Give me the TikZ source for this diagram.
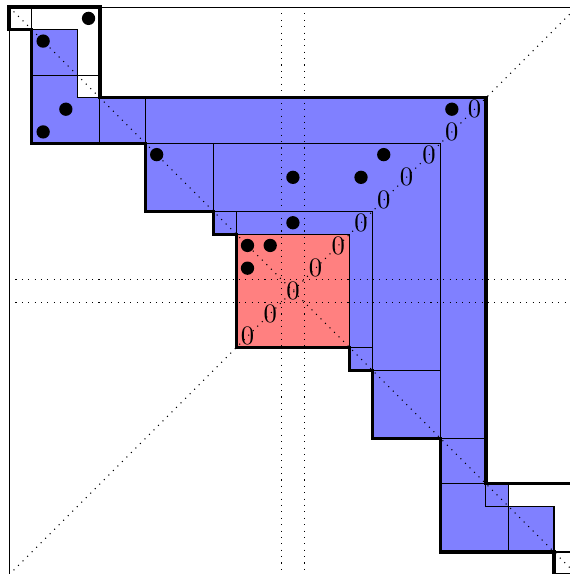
\documentclass[tikz,border=0pt]{standalone}
\newcommand{\StaircaseUnit}{0.3}
\tikzset{
	onedot/.style={circle, fill=black, inner sep=0pt, minimum size=5pt},
	zeroentry/.style={inner sep=0pt},
	blockline/.style={draw=black, thin},
	hookline/.style={draw=black, very thick, line join=miter},
}

\begin{document}
\begin{tikzpicture}[x=\StaircaseUnit cm, y=-\StaircaseUnit cm]
		\useasboundingbox (-0.4,-0.31) rectangle (24.66,24.97);
		\fill[blue!50] (1,1) -- (3,1) -- (3,4) -- (4,4) -- (21,4) -- (21,21) -- (22,21) -- (22,22) -- (24,22) -- (24,24) -- (19,24) -- (19,19) -- (16,19) -- (16,16) -- (15,16) -- (15,15) -- (10,15) -- (10,10) -- (9,10) -- (9,9) -- (6,9) -- (6,6) -- (1,6) -- cycle;
		\filldraw[fill=red!50, blockline] (10,10) rectangle (15,15);
		\draw[dotted] (12,0) -- (12,25) (13,0) -- (13,25) (0,12) -- (25,12) (0,13) -- (25,13);
		\draw[dotted] (0,0) -- (25,25) (0,25) -- (25,0);
		\draw[blockline] (0,0) rectangle (1,1) (1,1) rectangle (3,3) (3,3) rectangle (4,4) (4,4) rectangle (6,6) (6,6) rectangle (9,9) (9,9) rectangle (10,10);
		\draw[blockline] (15,15) rectangle (16,16) (16,16) rectangle (19,19) (19,19) rectangle (21,21) (21,21) rectangle (22,22) (22,22) rectangle (24,24) (24,24) rectangle (25,25);
		\draw[blockline] (6,6) -- (19,6) -- (19,19) (9,9) -- (16,9) -- (16,16);
		\draw[blockline] (0,0) rectangle (25,25);
		\draw[hookline] (0,0) -- (4,0) -- (4,4) -- (21,4) -- (21,21) -- (25,21) -- (25,25) -- (24,25) -- (24,24) -- (19,24) -- (19,19) -- (16,19) -- (16,16) -- (15,16) -- (15,15) -- (10,15) -- (10,10) -- (9,10) -- (9,9) -- (6,9) -- (6,6) -- (1,6) -- (1,1) -- (0,1) -- cycle;
		\node[onedot] (d1) at (3.5,0.5) {};
		\node[onedot] (d2) at (1.5,1.5) {};
		\node[onedot] (d3) at (2.5,4.5) {};
		\node[onedot] (d4) at (1.5,5.5) {};
		\node[onedot] (d5) at (6.5,6.5) {};
		\node[onedot] (d6) at (12.5,7.5) {};
		\node[onedot] (d7) at (12.5,9.5) {};
		\node[onedot] (d8) at (10.5,10.5) {};
		\node[onedot] (d9) at (11.5,10.5) {};
		\node[onedot] (d10) at (10.5,11.5) {};
		\node[onedot] (d11) at (15.5,7.5) {};
		\node[onedot] (d12) at (16.5,6.5) {};
		\node[onedot] (d13) at (19.5,4.5) {};
		\node[zeroentry] (z1) at (10.5,14.5) {$0$};
		\node[zeroentry] (z2) at (11.5,13.5) {$0$};
		\node[zeroentry] (z3) at (12.5,12.5) {$0$};
		\node[zeroentry] (z4) at (13.5,11.5) {$0$};
		\node[zeroentry] (z5) at (14.5,10.5) {$0$};
		\node[zeroentry] (z6) at (15.5,9.5) {$0$};
		\node[zeroentry] (z7) at (16.5,8.5) {$0$};
		\node[zeroentry] (z8) at (17.5,7.5) {$0$};
		\node[zeroentry] (z9) at (18.5,6.5) {$0$};
		\node[zeroentry] (z10) at (19.5,5.5) {$0$};
		\node[zeroentry] (z11) at (20.5,4.5) {$0$};
	\end{tikzpicture}
\end{document}
